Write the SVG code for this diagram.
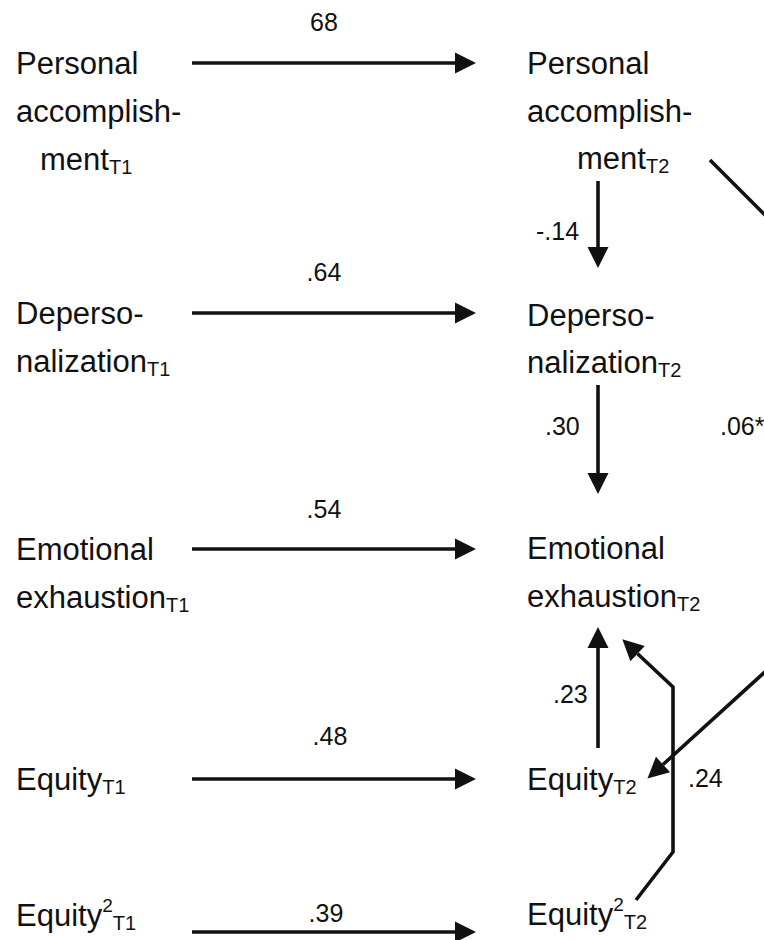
<svg xmlns="http://www.w3.org/2000/svg" width="764" height="940" viewBox="0 0 764 940">
<style>
text{font-family:"Liberation Sans",Arial,Helvetica,sans-serif;fill:#111}
.lbl{font-size:31px}
.num{font-size:25px}
.sub{font-size:20px}
.sup{font-size:19px}
.c{fill:none;stroke:#111;stroke-width:3.6;stroke-linejoin:miter}
</style>
<defs>
<marker id="ah" markerUnits="userSpaceOnUse" markerWidth="22" markerHeight="22" refX="0" refY="10.5" orient="auto" overflow="visible">
<path d="M0,0 L21,10.5 L0,21 z" fill="#111"/>
</marker>
</defs>
<rect width="764" height="940" fill="#fff"/>

<g id="pa1"><text class="lbl" x="16" y="74">Personal</text><text class="lbl" x="16" y="122">accomplish-</text><text class="lbl" x="40" y="170">ment<tspan class="sub" dy="4">T1</tspan></text></g>
<g id="dp1"><text class="lbl" x="16" y="324">Deperso-</text><text class="lbl" x="16" y="372">nalization<tspan class="sub" dy="4">T1</tspan></text></g>
<g id="ee1"><text class="lbl" x="16" y="560">Emotional</text><text class="lbl" x="16" y="608">exhaustion<tspan class="sub" dy="4">T1</tspan></text></g>
<g id="eq1"><text class="lbl" x="16" y="790">Equity<tspan class="sub" dy="4">T1</tspan></text></g>
<g id="eqsq1"><text class="lbl" x="16" y="926">Equity<tspan class="sup" dy="-14">2</tspan><tspan class="sub" dy="18">T1</tspan></text></g>

<g id="pa2"><text class="lbl" x="527" y="74">Personal</text><text class="lbl" x="527" y="122">accomplish-</text><text class="lbl" x="577" y="169">ment<tspan class="sub" dy="4">T2</tspan></text></g>
<g id="dp2"><text class="lbl" x="527" y="326">Deperso-</text><text class="lbl" x="527" y="373">nalization<tspan class="sub" dy="4">T2</tspan></text></g>
<g id="ee2"><text class="lbl" x="527" y="559">Emotional</text><text class="lbl" x="527" y="607">exhaustion<tspan class="sub" dy="4">T2</tspan></text></g>
<g id="eq2"><text class="lbl" x="527" y="790">Equity<tspan class="sub" dy="4">T2</tspan></text></g>
<g id="eqsq2"><text class="lbl" x="527" y="925">Equity<tspan class="sup" dy="-14">2</tspan><tspan class="sub" dy="18">T2</tspan></text></g>

<g id="connectors">
<line class="c" x1="192" y1="63" x2="455" y2="63" marker-end="url(#ah)"/>
<line class="c" x1="192" y1="313" x2="455" y2="313" marker-end="url(#ah)"/>
<line class="c" x1="192" y1="549" x2="455" y2="549" marker-end="url(#ah)"/>
<line class="c" x1="192" y1="779" x2="455" y2="779" marker-end="url(#ah)"/>
<line class="c" x1="192" y1="932" x2="455" y2="932" marker-end="url(#ah)"/>
<line class="c" x1="598" y1="181" x2="598" y2="247" marker-end="url(#ah)"/>
<line class="c" x1="598" y1="385" x2="598" y2="473" marker-end="url(#ah)"/>
<line class="c" x1="598" y1="748" x2="598" y2="648" marker-end="url(#ah)"/>
<polyline class="c" points="636,900 673,852 673,687 637.6,653.7" marker-end="url(#ah)"/>
<polyline class="c" points="710,160 800,250 800,640 663,764.5" marker-end="url(#ah)"/>
</g>

<g id="labels">
<text class="num" x="324" y="31" text-anchor="middle">68</text>
<text class="num" x="324" y="281" text-anchor="middle">.64</text>
<text class="num" x="324" y="518" text-anchor="middle">.54</text>
<text class="num" x="330" y="745" text-anchor="middle">.48</text>
<text class="num" x="326" y="922" text-anchor="middle">.39</text>
<text class="num" x="536" y="240">-.14</text>
<text class="num" x="545" y="435">.30</text>
<text class="num" x="720" y="435">.06*</text>
<text class="num" x="553" y="703">.23</text>
<text class="num" x="688" y="787">.24</text>
</g>
</svg>
